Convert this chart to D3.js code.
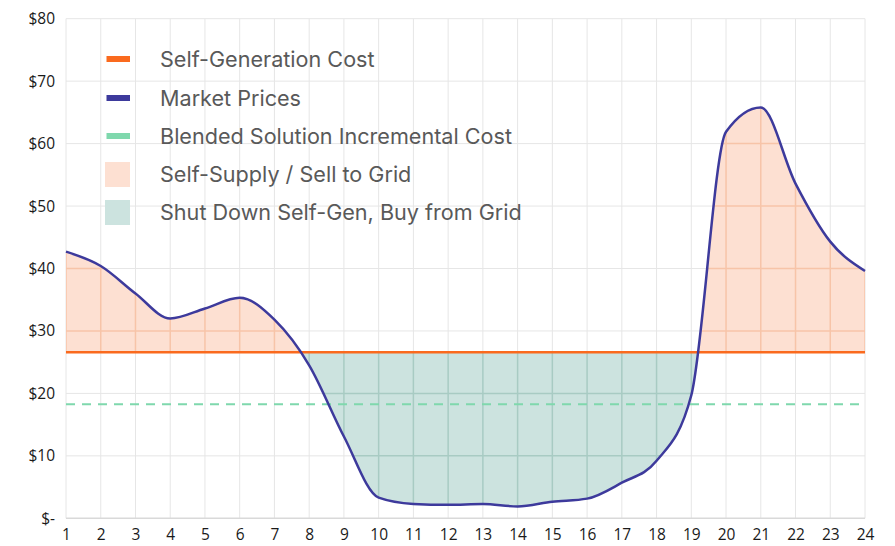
<!DOCTYPE html>
<html>
<head>
<meta charset="utf-8">
<script src="https://cdn.jsdelivr.net/npm/d3@7"></script>
<style>
  html, body { margin: 0; padding: 0; background: #fff; }
  svg { display: block; }
</style>
</head>
<body>
<svg id="chart" width="895" height="546"></svg>
<script>
// ---- data ----
const hours = [1,2,3,4,5,6,7,8,9,10,11,12,13,14,15,16,17,18,19,20,21,22,23,24];
const marketPrices = [42.7,40.4,36.0,32.0,33.6,35.3,31.8,24.5,13.1,3.3,2.3,2.15,2.3,1.9,2.65,3.15,5.7,9.2,19.7,61.9,65.8,53.6,44.3,39.6];
const selfGenCost = 26.6;
const blendedCost = 18.25;
const yTicks = [0,10,20,30,40,50,60,70,80];
const yTickLabels = ["$-","$10","$20","$30","$40","$50","$60","$70","$80"];
const legendLabels = ["Self-Generation Cost","Market Prices","Blended Solution Incremental Cost","Self-Supply / Sell to Grid","Shut Down Self-Gen, Buy from Grid"];

// ---- styles ----
const colOrange = "#fa6a1e", colBlue = "#3d3a9c", colGreen = "#7fd8ad";
const fillOrange = "#fde0d2", fillTeal = "#cce3df";
const gridOrange = "#f7c4a8", gridTeal = "#a8cbc3", gridGray = "#e6e6e6";

const svg = d3.select("#chart");
const L = 66, R = 865, T = 18.7, B = 518.3;
const x = d3.scaleLinear().domain([1,24]).range([L,R]);
const y = d3.scaleLinear().domain([0,80]).range([B,T]);
const data = hours.map((h,i)=>({h, v: marketPrices[i]}));
const curve = d3.curveMonotoneX;

const defs = svg.append("defs");
defs.append("clipPath").attr("id","clipAbove").append("rect")
  .attr("x",L).attr("y",T).attr("width",R-L).attr("height",y(selfGenCost)-T);
defs.append("clipPath").attr("id","clipBelow").append("rect")
  .attr("x",L).attr("y",y(selfGenCost)).attr("width",R-L).attr("height",B-y(selfGenCost));

// gridlines
function drawGrid(g, color, width) {
  g.selectAll("line.v").data(hours).join("line")
    .attr("x1",d=>x(d)).attr("x2",d=>x(d)).attr("y1",T).attr("y2",B)
    .attr("stroke",color).attr("stroke-width",width);
  g.selectAll("line.h").data(yTicks.slice(1)).join("line").attr("class","h")
    .attr("x1",L).attr("x2",R).attr("y1",d=>y(d)).attr("y2",d=>y(d))
    .attr("stroke",color).attr("stroke-width",width);
}
drawGrid(svg.append("g"), gridGray, 1);

const area = d3.area().x(d=>x(d.h)).y0(y(selfGenCost)).y1(d=>y(d.v)).curve(curve);
svg.append("path").datum(data).attr("d",area).attr("fill",fillOrange).attr("clip-path","url(#clipAbove)");
svg.append("path").datum(data).attr("d",area).attr("fill",fillTeal).attr("clip-path","url(#clipBelow)");

// gridlines tinted over fills
defs.append("clipPath").attr("id","clipAreaAbove").append("path").datum(data).attr("d",area);
const gA = svg.append("g").attr("clip-path","url(#clipAbove)").append("g").attr("clip-path","url(#clipAreaAbove)");
drawGrid(gA, gridOrange, 1.5);
const gB = svg.append("g").attr("clip-path","url(#clipBelow)").append("g").attr("clip-path","url(#clipAreaAbove)");
drawGrid(gB, gridTeal, 1.5);

// bottom axis line
svg.append("line").attr("x1",L).attr("x2",R).attr("y1",B).attr("y2",B).attr("stroke","#d9d9d9").attr("stroke-width",1.5);

// blended dashed
svg.append("line").attr("x1",L).attr("x2",R).attr("y1",y(blendedCost)).attr("y2",y(blendedCost))
  .attr("stroke",colGreen).attr("stroke-width",2).attr("stroke-dasharray","9,7");
// self-gen
svg.append("line").attr("x1",L).attr("x2",R).attr("y1",y(selfGenCost)).attr("y2",y(selfGenCost))
  .attr("stroke",colOrange).attr("stroke-width",2.5);
// market
const line = d3.line().x(d=>x(d.h)).y(d=>y(d.v)).curve(curve);
svg.append("path").datum(data).attr("d",line).attr("fill","none").attr("stroke",colBlue).attr("stroke-width",2.5);

// axes
const yAxis = d3.axisLeft(y).tickValues(yTicks).tickFormat((d,i)=>yTickLabels[i]).tickSize(0).tickPadding(11);
const gy = svg.append("g").attr("transform",`translate(${L},0)`).call(yAxis);
gy.select(".domain").remove();
gy.selectAll("text").style("font-family","'Open Sans', sans-serif").style("font-size","15.5px").style("fill","#1a1a1a");

const xAxis = d3.axisBottom(x).tickValues(hours).tickFormat(d3.format("d")).tickSize(0).tickPadding(11);
const gx = svg.append("g").attr("transform",`translate(0,${B})`).call(xAxis);
gx.select(".domain").remove();
gx.selectAll("text").style("font-family","'Open Sans', sans-serif").style("font-size","15.5px").style("fill","#1a1a1a");

// legend
const lg = svg.append("g");
const rowsY = [59, 98, 136, 174.5, 212.5];
const swatch = [
  {type:"line", color: colOrange},
  {type:"line", color: colBlue},
  {type:"line", color: colGreen},
  {type:"rect", color: fillOrange},
  {type:"rect", color: fillTeal}
];
legendLabels.forEach((t,i)=>{
  const s = swatch[i];
  if (s.type === "line") {
    lg.append("rect").attr("x",106.5).attr("y",rowsY[i]-3).attr("width",23.5).attr("height",6).attr("fill",s.color);
  } else {
    lg.append("rect").attr("x",105).attr("y",rowsY[i]-12.5).attr("width",25).attr("height",25).attr("fill",s.color);
  }
  lg.append("text").attr("x",160).attr("y",rowsY[i]).attr("dy","0.36em")
    .style("font-family","Inter, sans-serif").style("font-size","21.6px").style("fill","#595959").text(t);
});
</script>
</body>
</html>
